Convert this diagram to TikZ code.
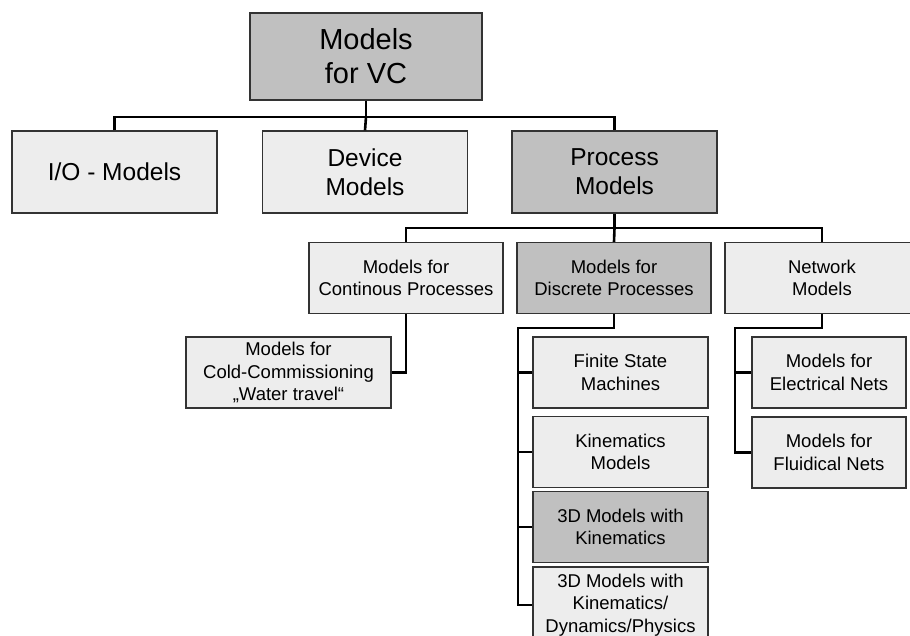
\documentclass[tikz,border=0pt]{standalone}
\usepackage{fontspec}
\setmainfont{Liberation Sans}
\usepackage{tikz}
\definecolor{boxlight}{HTML}{EDEDED}
\definecolor{boxgray}{HTML}{C0C0C0}
\definecolor{boxline}{HTML}{333333}
\begin{document}
\begin{tikzpicture}[x=1pt, y=-1pt,
        box/.style={draw=boxline, line width=1.2pt, fill=boxlight, align=center, inner sep=0pt},
        gbox/.style={box, fill=boxgray},
        big/.style={font=\fontsize{29}{34}\selectfont},
        mid/.style={font=\fontsize{24.5}{29}\selectfont, minimum width=205pt, minimum height=82pt},
        small/.style={font=\fontsize{18.5}{22.5}\selectfont, minimum height=71pt},
        conn/.style={line width=2.6pt, black}]
        \useasboundingbox (0,0) rectangle (910,635);
        \node[gbox, big, minimum width=232pt, minimum height=87pt] (vc) at (366,56.5) {Models\\for VC};
        \node[box, mid] (io) at (114.5,172) {I/O - Models};
        \node[box, mid] (dev) at (365,172) {Device\\Models};
        \node[gbox, mid] (proc) at (614.5,172) {Process\\Models};
        \node[box, small, minimum width=194pt] (cont) at (406,278) {Models for\\Continous Processes};
        \node[gbox, small, minimum width=194pt] (disc) at (614,278) {Models for\\Discrete Processes};
        \node[box, small, minimum width=194pt] (net) at (822,278) {Network\\Models};
        \node[box, small, minimum width=205pt] (cold) at (288.5,372.5) {Models for\\Cold-Commissioning\\„Water travel“};
        \node[box, small, minimum width=175pt] (fsm) at (620.5,372.5) {Finite State\\Machines};
        \node[box, small, minimum width=175pt] (kin) at (620.5,452) {Kinematics\\Models};
        \node[gbox, small, minimum width=175pt] (kin3d) at (620.5,527) {3D Models with\\Kinematics};
        \node[box, small, minimum width=175pt, minimum height=76pt] (dyn) at (620.5,605) {3D Models with\\Kinematics/\\Dynamics/Physics};
        \node[box, small, minimum width=154pt] (elec) at (829,372.5) {Models for\\Electrical Nets};
        \node[box, small, minimum width=154pt] (flu) at (829,452.5) {Models for\\Fluidical Nets};
        \coordinate (j1) at (366,117);
        \coordinate (j2) at (614.5,228);
        \coordinate (j3) at (518,328);
        \coordinate (j4) at (735,328);
        \draw[conn] (vc.south) -- (j1);
        \draw[conn] (io.north) |- (j1) -| (proc.north);
        \draw[conn] (j1) -- (dev.north);
        \draw[conn] (proc.south) -- (j2);
        \draw[conn] (cont.north) |- (j2) -| (net.north);
        \draw[conn] (j2) -- (disc.north);
        \draw[conn] (cont.south) |- (cold.east);
        \draw[conn] (disc.south) |- (j3) -- (j3 |- dyn.west) -- (dyn.west);
        \foreach \n in {fsm, kin, kin3d}
            \draw[conn] (j3 |- \n.west) -- (\n.west);
        \draw[conn] (net.south) |- (j4) -- (j4 |- flu.west) -- (flu.west);
        \draw[conn] (j4 |- elec.west) -- (elec.west);
\end{tikzpicture}
\end{document}
